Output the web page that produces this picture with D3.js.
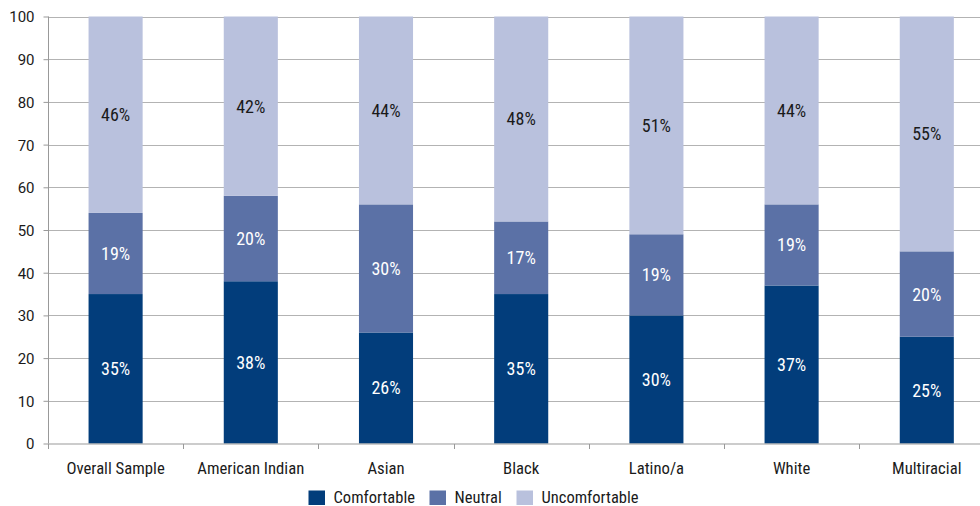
<!DOCTYPE html>
<html><head><meta charset="utf-8">
<script src="https://cdn.jsdelivr.net/npm/d3@7"></script>
<style>
html,body{margin:0;padding:0;background:#fff;}
svg text{font-family:Roboto,sans-serif;font-stretch:condensed;}
</style></head>
<body><svg id="chart" width="980" height="506"></svg>
<script>
const categories = ["Overall Sample","American Indian","Asian","Black","Latino/a","White","Multiracial"];
const comfortable = [35,38,26,35,30,37,25];
const neutral = [19,20,30,17,19,19,20];
const uncomfortable = [46,42,44,48,51,44,55];
const seriesNames = ["Comfortable","Neutral","Uncomfortable"];
const yTicks = [0,10,20,30,40,50,60,70,80,90,100];

const colors = ["#023d7b","#5b71a6","#b9c1dd"];
const labelColors = ["#ffffff","#ffffff","#1a1a1a"];

const svg = d3.select("#chart");
const pLeft = 48, pTop = 16.5, pBottom = 443.5;
const band = 135.2;
const x = d3.scaleBand().domain(categories).range([pLeft, pLeft + band*categories.length]).paddingInner(0.6).paddingOuter(0.3);
const y = d3.scaleLinear().domain([0,100]).range([pBottom, pTop]);

const rows = categories.map((c,i)=>({cat:c, Comfortable:comfortable[i], Neutral:neutral[i], Uncomfortable:uncomfortable[i]}));
const stack = d3.stack().keys(seriesNames)(rows);

// grid
svg.append("g").selectAll("line").data(yTicks.filter(d=>d>0)).join("line")
  .attr("x1", pLeft).attr("x2", 980).attr("y1", d=>Math.round(y(d))+0.5).attr("y2", d=>Math.round(y(d))+0.5)
  .attr("stroke","#b3b3b3").attr("stroke-width",1);

// bars
const gS = svg.append("g").selectAll("g").data(stack).join("g").attr("fill",(d,i)=>colors[i]);
gS.selectAll("rect").data(d=>d).join("rect")
  .attr("x", d=>x(d.data.cat)).attr("width", x.bandwidth())
  .attr("y", d=>y(d[1])).attr("height", d=>y(d[0])-y(d[1]));

// labels
stack.forEach((s,i)=>{
  svg.append("g").selectAll("text").data(s).join("text")
    .attr("x", d=>x(d.data.cat)+x.bandwidth()/2)
    .attr("y", d=>y((d[0]+d[1])/2))
    .attr("dy","0.36em").attr("text-anchor","middle")
    .attr("font-size",18).attr("fill",labelColors[i])
    .text(d=>(d[1]-d[0])+"%");
});

// y axis
const yAxis = d3.axisLeft(y).tickValues(yTicks).tickSize(5).tickPadding(9);
const ya = svg.append("g").attr("transform",`translate(${pLeft+0.5},0)`).call(yAxis);
ya.select(".domain").attr("stroke","#999").attr("d",`M0,${pTop}V${pBottom}`);
ya.selectAll(".tick line").attr("stroke","#999");
ya.selectAll(".tick text").attr("font-size",15).attr("fill","#1a1a1a")
  .attr("font-family","'Liberation Sans',Arial,sans-serif").style("font-stretch","normal").attr("dy","0.36em");

// x axis
const xb = d3.scaleLinear().domain([0,categories.length]).range([pLeft, pLeft+band*categories.length]);
const xa = svg.append("g").attr("transform",`translate(0,${pBottom+0.5})`);
xa.append("line").attr("x1",pLeft).attr("x2",980).attr("stroke","#999");
xa.selectAll("line.t").data(d3.range(0,categories.length+1)).join("line").attr("class","t")
  .attr("x1",d=>Math.round(xb(d))+0.5).attr("x2",d=>Math.round(xb(d))+0.5).attr("y1",0).attr("y2",5).attr("stroke","#999");
xa.selectAll("text").data(categories).join("text")
  .attr("x",d=>x(d)+x.bandwidth()/2).attr("y",29.5).attr("text-anchor","middle")
  .attr("font-size",16.7).attr("fill","#1a1a1a").text(d=>d);

// legend
const legX = [308.5,429.5,516.5];
const lg = svg.append("g");
seriesNames.forEach((n,i)=>{
  lg.append("rect").attr("x",legX[i]).attr("y",490.5).attr("width",16.5).attr("height",14.5).attr("fill",colors[i]);
  lg.append("text").attr("x",legX[i]+25).attr("y",503).attr("font-size",16.5).attr("fill","#1a1a1a").text(n);
});
</script></body></html>
